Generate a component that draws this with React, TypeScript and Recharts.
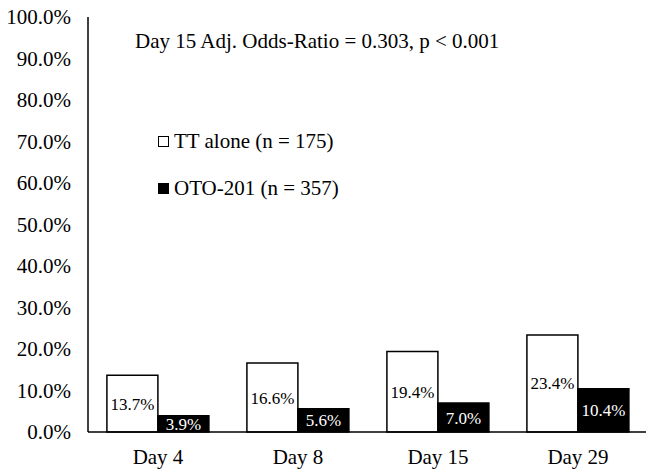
import React from "react";
import { BarChart, Bar, XAxis, YAxis, LabelList, Legend } from "recharts";

const categories = ["Day 4", "Day 8", "Day 15", "Day 29"];
const ttAlone = [13.7, 16.6, 19.4, 23.4];
const oto201 = [3.9, 5.6, 7.0, 10.4];
const yTicks = [0, 10, 20, 30, 40, 50, 60, 70, 80, 90, 100];
const seriesNames = ["TT alone (n = 175)", "OTO-201 (n = 357)"];
const annotation = "Day 15 Adj. Odds-Ratio = 0.303, p < 0.001";

const data = categories.map((c, i) => ({ name: c, tt: ttAlone[i], oto: oto201[i] }));

const FONT = "Liberation Serif";

const fmtPct = (v: any) => `${Number(v).toFixed(1)}%`;

const LegendContent = () => (
  <div style={{ position: "relative", width: 654, height: 475, fontFamily: FONT, color: "#000", pointerEvents: "none" }}>
    <div style={{ position: "absolute", left: 135, top: 30, fontSize: 21, whiteSpace: "nowrap", lineHeight: "23px" }}>
      {annotation}
    </div>
    {seriesNames.map((n, i) => (
      <div key={n} style={{ position: "absolute", left: 158, top: 130 + i * 47, fontSize: 21, whiteSpace: "nowrap", lineHeight: "23px", display: "flex", alignItems: "center" }}>
        <span style={{ display: "inline-block", width: 9, height: 9, border: "1px solid #000", background: i === 0 ? "#fff" : "#000", marginRight: 5 }} />
        <span>{n}</span>
      </div>
    ))}
  </div>
);

export default function App() {
  return (
    <div style={{ marginTop: -8, marginLeft: -8, fontFamily: FONT }}>
      <BarChart
        width={654}
        height={475}
        data={data}
        margin={{ top: 17, right: 6, bottom: 0, left: 0 }}
        barCategoryGap="13.5%"
        barGap={0}
        style={{ fontFamily: FONT }}
      >
        <XAxis
          dataKey="name"
          height={43}
          tickLine={false}
          tickSize={6}
          tickMargin={11}
          axisLine={{ stroke: "#000", strokeWidth: 1.5 }}
          tick={{ fill: "#000", fontSize: 21, fontFamily: FONT }}
        />
        <YAxis
          width={88}
          domain={[0, 100]}
          ticks={yTicks}
          interval={0}
          tickFormatter={fmtPct}
          tickLine={false}
          tickSize={6}
          tickMargin={11}
          axisLine={{ stroke: "#000", strokeWidth: 1.5 }}
          tick={{ fill: "#000", fontSize: 21, fontFamily: FONT }}
        />
        <Legend
          layout="horizontal"
          verticalAlign="middle"
          align="center"
          wrapperStyle={{ left: 0, top: 0, width: 654, height: 475 }}
          content={<LegendContent />}
        />
        <Bar dataKey="tt" fill="#fff" stroke="#000" strokeWidth={1.5} isAnimationActive={false}>
          <LabelList dataKey="tt" position="center" formatter={fmtPct} fill="#000" style={{ fontSize: 17, fontFamily: FONT }} />
        </Bar>
        <Bar dataKey="oto" fill="#000" stroke="#000" strokeWidth={1.5} isAnimationActive={false}>
          <LabelList dataKey="oto" position="center" formatter={fmtPct} fill="#fff" style={{ fontSize: 17, fontFamily: FONT }} />
        </Bar>
      </BarChart>
    </div>
  );
}
